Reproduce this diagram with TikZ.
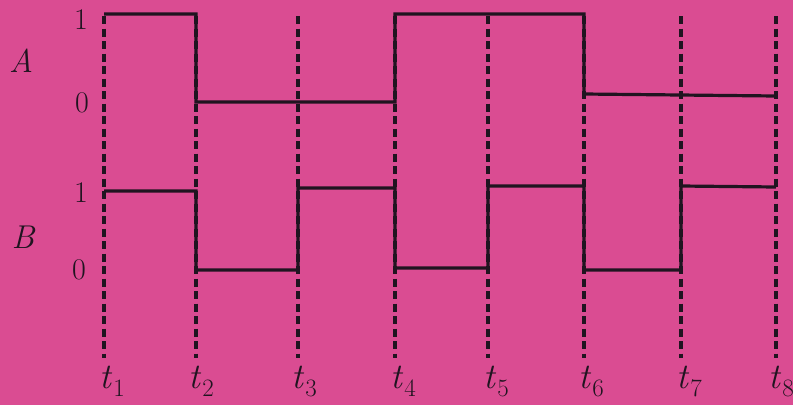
\documentclass[tikz,border=0pt]{standalone}
\usepackage{fontspec}
\definecolor{bg}{RGB}{218,76,146}
\definecolor{ink}{RGB}{32,20,32}
\newcommand{\tsub}[1]{\textit{t}\kern1pt\raisebox{-8pt}{\fontsize{25}{28}\selectfont #1}}
\begin{document}
\begin{tikzpicture}[x=1pt,y=-1pt,
  sig/.style={draw=ink,line width=3.2pt,line join=miter},
  grid/.style={draw=ink,line width=3.6pt,dash pattern=on 8pt off 4.5pt},
  lbl/.style={text=ink,font=\fontsize{30}{34}\selectfont,inner sep=0pt},
  ax/.style={text=ink,font=\fontsize{33}{38}\selectfont\itshape,inner sep=0pt},
  tl/.style={text=ink,font=\fontsize{36}{40}\selectfont,inner sep=0pt,anchor=base west}]
\fill[bg] (0,0) rectangle (793,405);
\useasboundingbox (0,0) rectangle (793,405);
% time coordinates
\foreach \n/\x in {1/104,2/196,3/298,4/395,5/488,6/584,7/681,8/776}{
  \coordinate (top\n) at (\x,16);
  \coordinate (bot\n) at (\x,358);
  \draw[grid] (top\n) -- (bot\n);
}
% signal A
\draw[sig] (104,14) -- (196,14) -- (196,102) -- (395,102) -- (395,14) -- (584,14) -- (584,94) -- (776,96);
% signal B
\draw[sig] (104,191) -- (196,191) -- (196,270) -- (298,270) -- (298,188) -- (395,188) -- (395,268) -- (488,268) -- (488,186) -- (584,186) -- (584,270) -- (681,270) -- (681,186) -- (776,187);
% labels
\node[lbl] (a1) at (81,20) {1};
\node[lbl] (a0) at (82,103) {0};
\node[ax] (la) at (21,61) {A};
\node[lbl] (b1) at (81,193) {1};
\node[lbl] (b0) at (79,270) {0};
\node[ax] (lb) at (23,237) {B};
\foreach \n/\x in {1/99,2/188,3/291,4/390,5/483,6/578,7/676,8/768}{
  \node[tl] (t\n) at (\x,388) {\tsub{\n}};
}
\end{tikzpicture}
\end{document}
